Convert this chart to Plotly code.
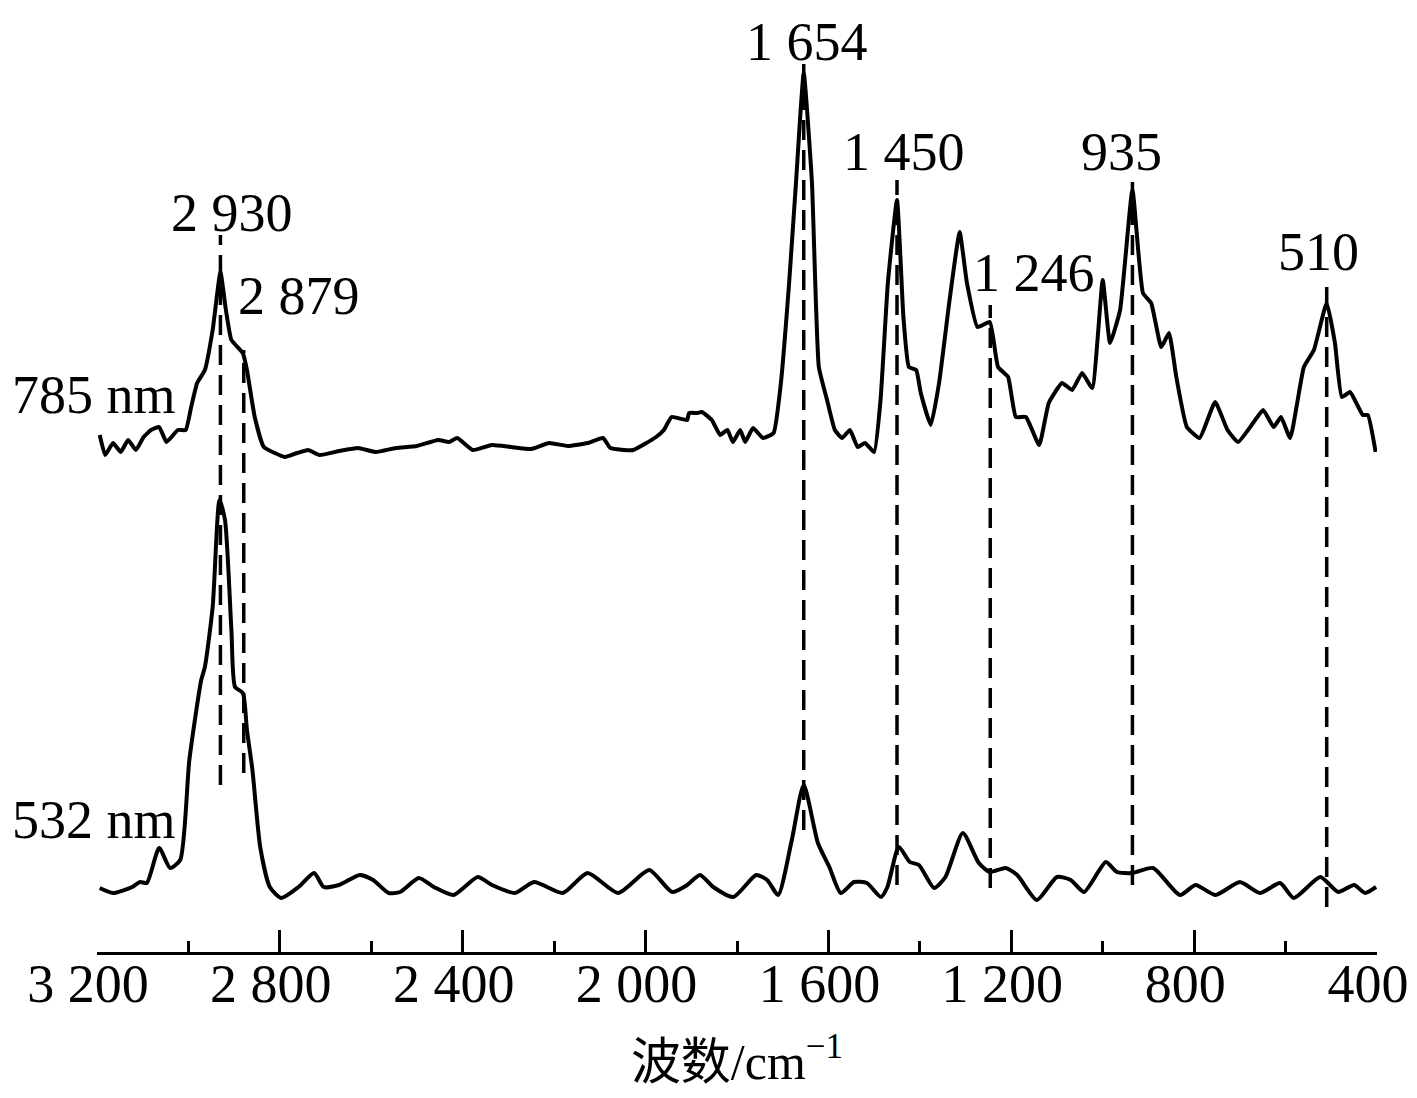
import plotly.graph_objects as go

# ---- data (wavenumber cm^-1, intensity a.u.; 785 nm trace includes its vertical offset) ----
wn_785 = [3194, 3182, 3165, 3148, 3132, 3115, 3098, 3082, 3064, 3048, 3023, 3006, 2994, 2981, 2964, 2947,
          2930, 2918, 2906, 2881, 2872, 2855, 2835, 2789, 2762, 2738, 2713, 2670, 2629, 2590, 2546, 2500,
          2454, 2430, 2412, 2378, 2336, 2294, 2250, 2211, 2170, 2127, 2093, 2077, 2027, 1977, 1960, 1943,
          1909, 1905, 1887, 1877, 1855, 1837, 1821, 1809, 1793, 1782, 1765, 1743, 1720, 1704, 1686, 1671,
          1654, 1636, 1621, 1603, 1586, 1570, 1553, 1536, 1520, 1500, 1486, 1470, 1450, 1436, 1424, 1408,
          1398, 1376, 1358, 1335, 1313, 1297, 1274, 1247, 1229, 1207, 1190, 1168, 1139, 1118, 1089, 1067,
          1045, 1023, 1000, 984, 962, 935, 912, 894, 872, 855, 839, 816, 788, 754, 727, 704, 671, 649, 626,
          610, 590, 560, 538, 510, 492, 477, 459, 431, 420, 403]
int_785 = [517, 497, 509, 500, 512, 502, 515, 522, 525, 510, 522, 522, 545, 569, 582, 622,
           680, 642, 612, 599, 582, 535, 505, 495, 499, 502, 497, 501, 504, 500, 504, 506,
           512, 510, 514, 502, 507, 505, 503, 509, 506, 509, 514, 504, 502, 515, 522, 535,
           532, 539, 539, 540, 532, 517, 522, 510, 522, 510, 524, 514, 519, 569, 669, 769,
           879, 769, 585, 552, 522, 514, 522, 505, 509, 500, 552, 669, 752, 635, 585, 582,
           559, 527, 569, 652, 720, 669, 625, 630, 585, 575, 535, 535, 507, 549, 569, 562,
           579, 564, 672, 609, 642, 762, 659, 649, 605, 619, 575, 525, 514, 550, 522, 510, 529, 542, 525,
           535, 514, 585, 602, 649, 609, 555, 560, 537, 537, 500]

wn_532 = [3194, 3165, 3123, 3106, 3091, 3064, 3040, 3018, 2998, 2972, 2964, 2947, 2932, 2920, 2906, 2898,
          2881, 2872, 2860, 2843, 2822, 2797, 2759, 2725, 2704, 2671, 2625, 2596, 2562, 2537, 2496, 2463,
          2420, 2367, 2336, 2286, 2244, 2181, 2127, 2060, 1992, 1942, 1909, 1881, 1852, 1808, 1758, 1734,
          1710, 1681, 1654, 1623, 1598, 1573, 1544, 1516, 1485, 1471, 1446, 1422, 1402, 1369, 1344, 1306,
          1271, 1247, 1212, 1187, 1144, 1100, 1070, 1041, 993, 969, 935, 890, 831, 797, 753, 700, 656, 612,
          582, 524, 485, 450, 426, 402]
int_532 = [64, 59, 65, 70, 69, 104, 84, 92, 192, 272, 285, 345, 452, 432, 322, 265,
           259, 222, 182, 105, 65, 54, 65, 79, 65, 67, 77, 72, 59, 60, 74, 65,
           57, 75, 67, 59, 70, 59, 79, 59, 82, 60, 67, 77, 65, 55, 77, 72,
           57, 110, 167, 109, 85, 59, 70, 69, 55, 65, 105, 90, 87, 64, 75, 119,
           89, 80, 84, 77, 52, 75, 72, 60, 90, 80, 79, 84, 57, 67, 57, 70, 59, 69,
           54, 75, 60, 67, 59, 65]

peak_wn = [2930, 2879, 1654, 1450, 1246, 935, 510]
peak_labels = ["2 930", "2 879", "1 654", "1 450", "1 246", "935", "510"]
guide_top = [717, 602, 888, 772, 647, 770, 669]
guide_bottom = [167, 179, 122, 67, 64, 67, 45]

series_labels = ["785 nm", "532 nm"]

tick_vals = [3200, 2800, 2400, 2000, 1600, 1200, 800, 400]
tick_text = ["3 200", "2 800", "2 400", "2 000", "1 600", "1 200", "800", "400"]

# ---- layout helpers (positions of text) ----
label_pos = {"2 930": (2905, 739), "2 879": (2759, 656), "1 654": (1647, 910), "1 450": (1435, 800),
             "1 246": (1150, 679), "935": (958, 800), "510": (529, 700)}
series_pos = {"785 nm": (-0.068, 0.590), "532 nm": (-0.068, 0.140)}  # paper coords, left-anchored

FONT = "Liberation Serif, Times New Roman, serif"

fig = go.Figure()

# dashed guide lines
for w, t, b in zip(peak_wn, guide_top, guide_bottom):
    fig.add_trace(go.Scatter(x=[w, w], y=[b, t], mode="lines",
                             line=dict(color="black", width=3.5, dash="20px,10px"),
                             hoverinfo="skip", showlegend=False))

fig.add_trace(go.Scatter(x=wn_785, y=int_785, mode="lines", name="785 nm",
                         line=dict(color="black", width=4, shape="spline", smoothing=0.4),
                         showlegend=False))
fig.add_trace(go.Scatter(x=wn_532, y=int_532, mode="lines", name="532 nm",
                         line=dict(color="black", width=4, shape="spline", smoothing=0.6),
                         showlegend=False))

annotations = []
for lab in peak_labels:
    x, y = label_pos[lab]
    annotations.append(dict(x=x, y=y, xref="x", yref="y", text=lab, showarrow=False,
                            xanchor="center", yanchor="middle",
                            font=dict(family=FONT, size=54, color="black")))
for lab in series_labels:
    x, y = series_pos[lab]
    annotations.append(dict(x=x, y=y, xref="paper", yref="paper", text=lab, showarrow=False,
                            xanchor="left", yanchor="middle",
                            font=dict(family=FONT, size=54, color="black")))

fig.update_layout(
    width=1401, height=1082,
    margin=dict(l=89, r=32, t=0, b=138, pad=0),
    paper_bgcolor="white", plot_bgcolor="white",
    annotations=annotations,
    xaxis=dict(
        range=[3200, 400], showgrid=False, zeroline=False,
        showline=True, linecolor="black", linewidth=3,
        ticks="inside", ticklen=22, tickwidth=3, tickcolor="black",
        tickvals=tick_vals, ticktext=tick_text, ticklabelstandoff=-18, ticklabelshift=9,
        ticklabeloverflow="allow",
        tickfont=dict(family=FONT, size=54, color="black"),
        minor=dict(dtick=200, tick0=400, ticks="inside", ticklen=11, tickwidth=3, tickcolor="black"),
        title=dict(text="波数/cm<sup>−1</sup>", standoff=33,
                   font=dict(family="Liberation Serif, Noto Sans CJK SC, serif", size=50, color="black")),
    ),
    yaxis=dict(range=[0, 944], visible=False, showgrid=False, zeroline=False),
)

fig.write_html("out.html")
